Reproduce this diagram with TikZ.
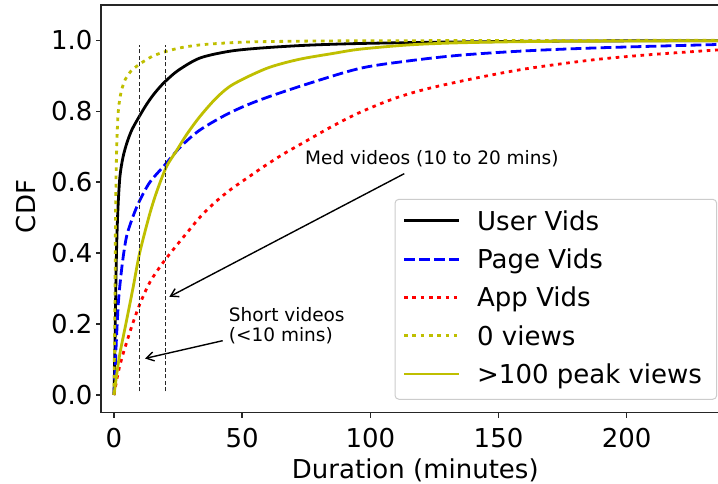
\documentclass[tikz,border=0pt]{standalone}
\usepackage{fontspec}
\setmainfont{DejaVu Sans}
\usetikzlibrary{arrows.meta}
\definecolor{mplolive}{rgb}{0.75,0.75,0}
\definecolor{legendedge}{gray}{0.8}

\begin{document}
\begin{tikzpicture}[x=1pt,y=1pt,
  ticklabel/.style={font=\fontsize{26}{31}\selectfont, inner sep=0pt},
  legendtext/.style={font=\fontsize{26}{31}\selectfont, inner sep=0pt},
  annot/.style={font=\fontsize{18.5}{20}\selectfont, inner sep=6pt},
  spine/.style={black!85, line width=1.4pt},
  curve/.style={line width=2.8pt, line join=round},
  usercurve/.style={curve, black},
  pagecurve/.style={curve, blue, dash pattern=on 10.7pt off 4.3pt},
  appcurve/.style={curve, red, dash pattern=on 3.6pt off 4.7pt},
  zerocurve/.style={curve, mplolive, dash pattern=on 3.6pt off 4.7pt},
  peakcurve/.style={curve, mplolive},
  guide/.style={black!85, line width=0.8pt, dash pattern=on 4pt off 2.5pt},
  pointer/.style={line width=1.4pt, -{Straight Barb[length=7.5pt,width=9pt]}},
]
\clip (0,0) rectangle (718,483);
\fill[white] (0,0) rectangle (718,483);

% data axes: minutes on x, CDF on y
\begin{scope}[shift={(114pt,88pt)}, x=2.5635pt, y=354.7pt]
  \begin{scope}
    \clip (-5,-0.05) rectangle (240,1.1);
    % User Vids
    \draw[usercurve] plot[smooth, tension=0.5] coordinates {
      (0,0) (0.4,0.15) (0.7,0.3) (1.0,0.41) (1.5,0.52) (2.3,0.615) (3.5,0.67)
      (5,0.71) (7,0.748) (10,0.787) (12.5,0.817) (15,0.843) (17.5,0.865)
      (20,0.884) (25,0.915) (33.5,0.95) (45,0.969) (57,0.978) (75,0.986)
      (96,0.991) (130,0.995) (180,0.998) (240,0.999)};
    % Page Vids
    \draw[pagecurve] plot[smooth, tension=0.5] coordinates {
      (0,0) (0.4,0.06) (0.9,0.15) (1.7,0.26) (2.6,0.33) (3.6,0.39) (5,0.45)
      (7.5,0.505) (10,0.548) (14,0.6) (20,0.65) (26,0.7) (33.5,0.747)
      (45,0.795) (57,0.832) (75,0.876) (96,0.921) (115,0.942) (135,0.958)
      (160,0.97) (190,0.979) (240,0.989)};
    % App Vids
    \draw[appcurve] plot[smooth, tension=0.5] coordinates {
      (0,0) (1,0.04) (2,0.075) (3.5,0.115) (5,0.15) (7,0.195) (10,0.255)
      (14,0.318) (19,0.372) (24,0.418) (29,0.462) (34,0.505) (40,0.547)
      (46,0.582) (52,0.612) (58,0.642) (66,0.679) (74,0.712) (85,0.757)
      (96,0.797) (109,0.835) (122,0.863) (141.5,0.894) (161,0.92)
      (187,0.945) (210,0.96) (240,0.975)};
    % 0 views
    \draw[zerocurve] plot[smooth, tension=0.5] coordinates {
      (0,0) (0.2,0.15) (0.4,0.3) (0.6,0.5) (0.9,0.65) (1.3,0.75) (1.8,0.81)
      (2.8,0.855) (4.3,0.888) (6.5,0.912) (10,0.933) (15,0.955) (20,0.968)
      (26,0.979) (33.5,0.987) (45,0.993) (57,0.996) (80,0.998) (120,0.999)
      (240,1.0)};
    % >100 peak views
    \draw[peakcurve] plot[smooth, tension=0.5] coordinates {
      (0,0) (1,0.055) (2.3,0.117) (4.9,0.21) (7.5,0.305) (10,0.4) (14,0.512)
      (17,0.58) (20.5,0.644) (24.5,0.69) (28.4,0.735) (33.5,0.785) (40,0.838)
      (46.5,0.876) (59.6,0.921) (72,0.946) (85.5,0.963) (96,0.975)
      (115,0.987) (135,0.993) (170,0.997) (240,0.999)};
  \end{scope}

  % 10 and 20 minute markers
  \draw[guide] (10,0.01) -- (10,0.987);
  \draw[guide] (20,0.01) -- (20,0.987);

  % spines
  \draw[spine] (240,1.1) -- (-5,1.1) -- (-5,-0.05) -- (240,-0.05);

  % x ticks
  \foreach \v in {0,50,100,150,200} {
    \draw[spine] (\v,-0.05) -- ++(0,-5pt);
    \node[ticklabel, anchor=north] (xt\v) at ([yshift=-15.6pt]\v,-0.05) {\v};
  }
  % y ticks
  \foreach \v/\t [count=\i] in {0/0.0,0.2/0.2,0.4/0.4,0.6/0.6,0.8/0.8,1/1.0} {
    \draw[spine] (-5,\v) -- ++(-5pt,0);
    \node[ticklabel, anchor=east] (yt\i) at ([xshift=-8.5pt]-5,\v) {\t};
  }

  \coordinate (medtip) at (21.6,0.277);
  \coordinate (shorttip) at (12.1,0.103);
\end{scope}

% axis titles
\node[ticklabel, anchor=base] (xlabel) at (415.3,4.7) {Duration (minutes)};
\node[ticklabel, anchor=base, rotate=90] (ylabel) at (35,276.5) {CDF};

% annotations
\node[annot, anchor=base west] (medlabel) at (299,318) {Med videos (10 to 20 mins)};
\node[annot, anchor=north west, align=left] (shortlabel) at (222.7,181.4)
  {Short videos\\(<10 mins)};
\draw[pointer] (medlabel) -- (medtip);
\draw[pointer] (shortlabel) -- (shorttip);

% legend
\draw[draw=legendedge, line width=1pt, rounded corners=4pt, fill=white, fill opacity=0.8]
  (395,83.7) rectangle (716.7,283.7);
\draw[usercurve] (404,262.3) -- (459,262.3);
\draw[pagecurve] (404,223.7) -- (459,223.7);
\draw[appcurve]  (404,185.7) -- (459,185.7);
\draw[zerocurve] (404,147.3) -- (459,147.3);
\draw[peakcurve] (404,109) -- (459,109);
\node[legendtext, anchor=base west] (lguser) at (477,252.8) {User Vids};
\node[legendtext, anchor=base west] (lgpage) at (477,214.2) {Page Vids};
\node[legendtext, anchor=base west] (lgapp)  at (477,176.2) {App Vids};
\node[legendtext, anchor=base west] (lgzero) at (477,137.8) {0 views};
\node[legendtext, anchor=base west] (lgpeak) at (477,99.5) {>100 peak views};
\end{tikzpicture}
\end{document}
